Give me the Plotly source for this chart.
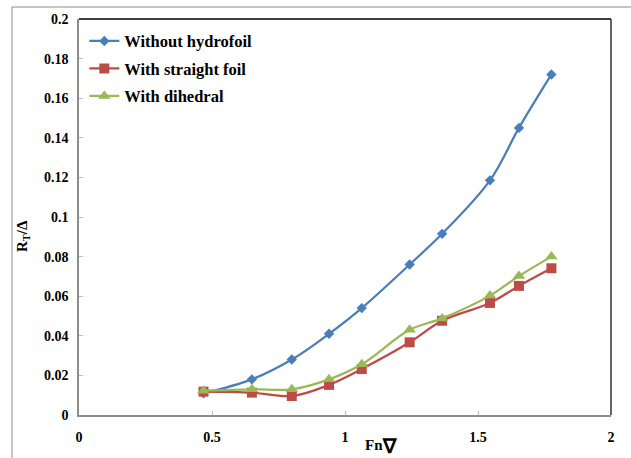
import plotly.graph_objects as go

fn = [0.468, 0.65, 0.80, 0.94, 1.063, 1.243, 1.365, 1.545, 1.654, 1.776]
without_hydrofoil = [0.011, 0.018, 0.028, 0.041, 0.054, 0.076, 0.0915, 0.1185, 0.145, 0.172]
with_straight_foil = [0.0118, 0.0113, 0.0096, 0.0152, 0.0232, 0.0367, 0.0476, 0.0566, 0.0652, 0.0741]
with_dihedral = [0.0123, 0.013, 0.013, 0.018, 0.0256, 0.043, 0.0488, 0.0603, 0.0702, 0.080]

x_ticks = [0, 0.5, 1, 1.5, 2]
x_tick_labels = ["0", "0.5", "1", "1.5", "2"]
y_ticks = [0, 0.02, 0.04, 0.06, 0.08, 0.1, 0.12, 0.14, 0.16, 0.18, 0.2]
y_tick_labels = ["0", "0.02", "0.04", "0.06", "0.08", "0.1", "0.12", "0.14", "0.16", "0.18", "0.2"]

font_family = "Liberation Serif"

W, H = 631, 458
L, R, T, B = 79, 20, 19, 43
PW, PH = W - L - R, H - T - B

fig = go.Figure()
fig.add_trace(go.Scatter(
    x=fn, y=without_hydrofoil, name="<b>Without hydrofoil</b>", mode="lines+markers",
    line=dict(color="#4A7EBB", width=2.25, shape="spline", smoothing=1),
    marker=dict(symbol="diamond", size=8, color="#4A7EBB"), legendgroup="a"))
fig.add_trace(go.Scatter(
    x=fn, y=with_straight_foil, name="<b>With straight foil</b>", mode="lines+markers",
    line=dict(color="#BE4B48", width=2.25, shape="spline", smoothing=1),
    marker=dict(symbol="square", size=10, color="#BE4B48"), legendgroup="b"))
fig.add_trace(go.Scatter(
    x=fn, y=with_dihedral, name="<b>With dihedral</b>", mode="lines+markers",
    line=dict(color="#98B954", width=2.25, shape="spline", smoothing=1),
    marker=dict(symbol="triangle-up", size=11, color="#98B954"), legendgroup="c"))

fig.update_layout(
    width=W, height=H,
    margin=dict(l=L, r=R, t=T, b=B),
    paper_bgcolor="white", plot_bgcolor="white",
    font=dict(family=font_family, size=14, color="black"),
    showlegend=True,
    legend=dict(x=0.01, y=0.988, xanchor="left", yanchor="top",
                bgcolor="rgba(0,0,0,0)", font=dict(family=font_family, size=16.5, color="black"),
                tracegroupgap=3, itemwidth=30),
    xaxis=dict(range=[0, 2], tickvals=x_ticks, ticktext=["<b>%s</b>" % t for t in x_tick_labels],
               showgrid=False, zeroline=False, showline=True, linecolor="#8C8C8C", linewidth=1.5,
               ticks="inside", ticklen=4, tickcolor="#BFBFBF", automargin=False,
               ticklabelstandoff=8,
               tickfont=dict(family=font_family, size=14, color="black")),
    yaxis=dict(range=[0, 0.2], tickvals=y_ticks, ticktext=["<b>%s</b>" % t for t in y_tick_labels],
               showgrid=False, zeroline=False, showline=True, linecolor="#8C8C8C", linewidth=1.5,
               ticks="inside", ticklen=4, tickcolor="#BFBFBF", automargin=False,
               ticklabelstandoff=6,
               tickfont=dict(family=font_family, size=14, color="black")),
    annotations=[
        dict(text="<b>Fn<sub><span style='font-size:20px'>∇</span></sub></b>",
             xref="paper", yref="paper", x=(381 - L) / PW, y=-(446 - (T + PH)) / PH,
             xanchor="center", yanchor="middle", showarrow=False,
             font=dict(family=font_family, size=15, color="black")),
        dict(text="<b>R<sub>T</sub>/Δ</b>", textangle=-90,
             xref="paper", yref="paper", x=(23 - L) / PW, y=(T + PH - 236) / PH,
             xanchor="center", yanchor="middle", showarrow=False,
             font=dict(family=font_family, size=15, color="black")),
    ],
    shapes=[
        dict(type="line", xref="paper", yref="paper", x0=0, x1=1, y0=1, y1=1,
             line=dict(color="black", width=1.5)),
        dict(type="line", xref="paper", yref="paper", x0=1, x1=1, y0=0, y1=1,
             line=dict(color="#333333", width=1.5)),
        dict(type="line", xref="paper", yref="paper", x0=-(L - 12) / PW, x1=(W - L) / PW,
             y0=1 + (T - 7) / PH, y1=1 + (T - 7) / PH,
             line=dict(color="#8C8C8C", width=1)),
        dict(type="line", xref="paper", yref="paper", x0=-(L - 12) / PW, x1=-(L - 12) / PW,
             y0=-B / PH, y1=1 + (T - 7) / PH,
             line=dict(color="#8C8C8C", width=1)),
    ],
)

fig.write_html("out.html", config={"displayModeBar": False},
               post_script="document.body.style.margin='0px';document.body.style.overflow='hidden';")
